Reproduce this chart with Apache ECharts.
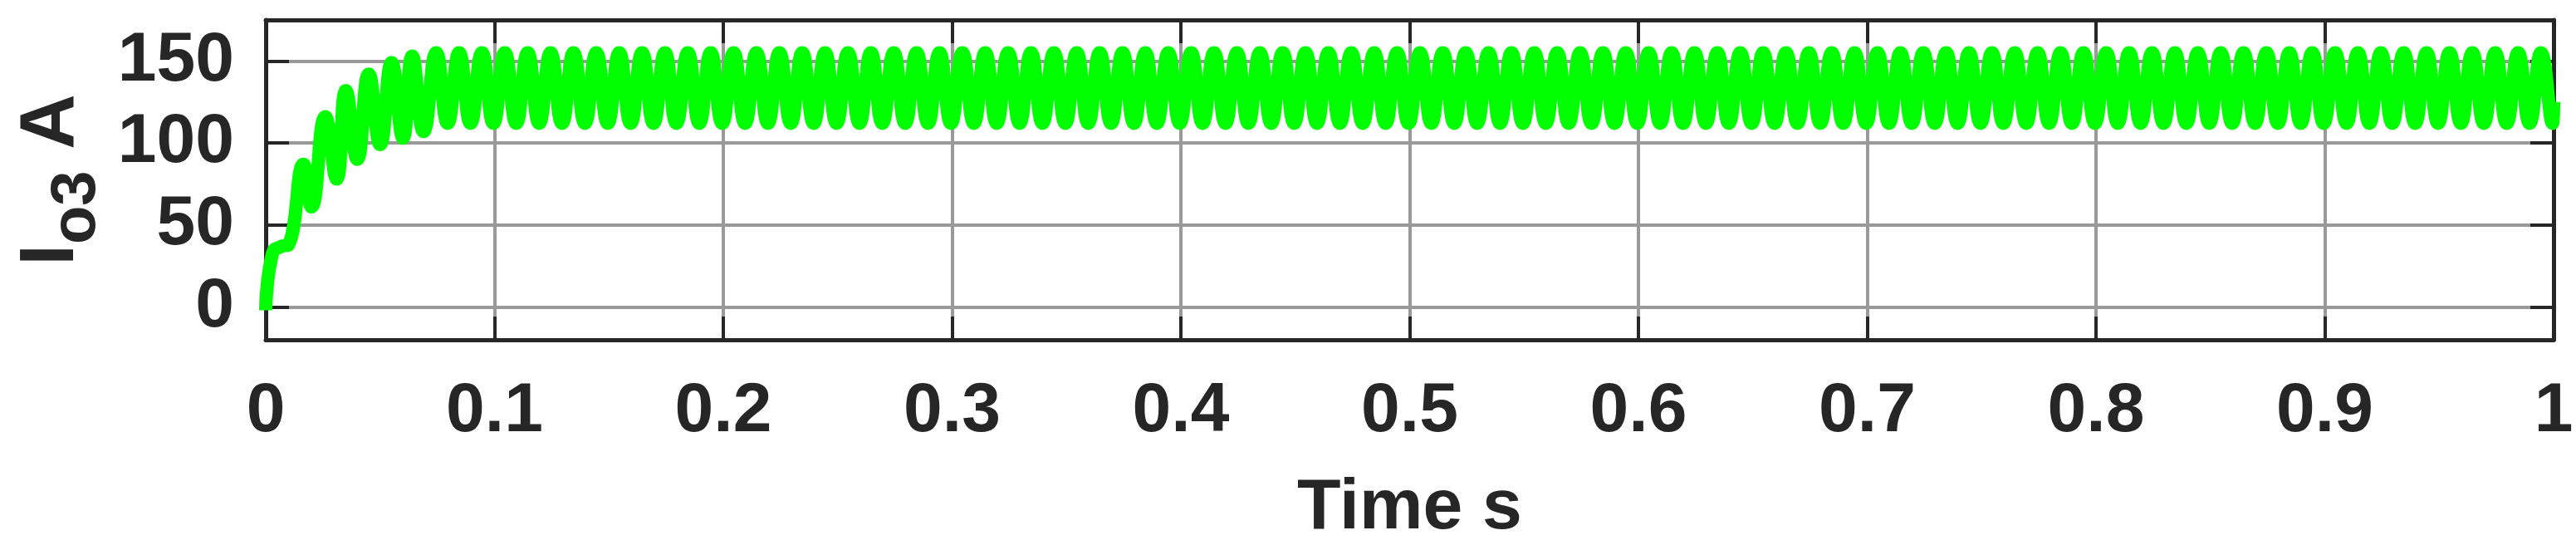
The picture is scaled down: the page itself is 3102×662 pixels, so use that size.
<!DOCTYPE html>
<html lang="en">
<head>
<meta charset="UTF-8">
<title>Io3</title>
<script src="https://cdn.jsdelivr.net/npm/echarts@6/dist/echarts.min.js"></script>
<style>html,body{margin:0;padding:0;background:#fff}</style>
</head>
<body>
<div id="main" style="width:3102px;height:662px;"></div>
<script>
// start-up transient (time s, current A) at the turning points
var startTimes = [0, 0.003, 0.007, 0.010, 0.0165, 0.020, 0.026, 0.031, 0.035, 0.040, 0.045, 0.050, 0.055, 0.060, 0.064, 0.069];
var startVals  = [-2, 33, 37, 38, 87, 61, 116, 78, 132, 90, 142, 99, 149, 103, 153, 107];
// steady ripple: peaks and troughs every 10 ms after the transient
var firstPeak = 0.0745;
var peakVals = [];
var troughVals = [];
for (var k = 0; k < 93; k++) { peakVals.push(155); troughVals.push(112); }
var xTicks = ['0','0.1','0.2','0.3','0.4','0.5','0.6','0.7','0.8','0.9','1'];
var yTicks = [0, 50, 100, 150];

var pts = [];
for (var i = 0; i < startTimes.length; i++) pts.push([startTimes[i], startVals[i]]);
for (var j = 0; j < peakVals.length; j++) {
    var tp = firstPeak + j * 0.01;
    if (tp <= 1) pts.push([tp, peakVals[j]]);
    if (tp + 0.005 <= 1) pts.push([tp + 0.005, troughVals[j]]);
}
pts.push([1, 125]);

var txt = '#262626';
var font = '"Liberation Sans", Arial, sans-serif';
var frame = {show: true, onZero: false, lineStyle: {color: txt, width: 5}};
var tick = {inside: true, length: 28, lineStyle: {color: txt, width: 4}};
var chart = echarts.init(document.getElementById('main'));
chart.setOption({
    animation: false,
    grid: {left: 320, right: 27, top: 24, bottom: 253, outerBoundsMode: 'none', containLabel: false},
    xAxis: [{
        type: 'value', min: 0, max: 1, interval: 0.1,
        name: 'Time s', nameLocation: 'middle', nameGap: 160,
        nameTextStyle: {color: txt, fontSize: 86, fontWeight: 'bold', fontFamily: font},
        axisLine: frame, axisTick: tick,
        axisLabel: {margin: 45, color: txt, fontSize: 84, fontWeight: 'bold', fontFamily: font,
            formatter: function (v) { return xTicks[Math.round(v * 10)]; }},
        splitLine: {show: true, lineStyle: {color: '#999', width: 4}}
    }, {
        type: 'value', min: 0, max: 1, interval: 0.1, position: 'top',
        axisLine: frame, axisTick: tick,
        axisLabel: {show: false}, splitLine: {show: false}
    }],
    yAxis: [{
        type: 'value', min: -20, max: 175,
        name: '{b|I}{s|o3}{b| A}', nameLocation: 'middle', nameGap: 178, nameRotate: 90,
        nameTextStyle: {rich: {
            b: {color: txt, fontSize: 92, fontWeight: 'bold', fontFamily: font},
            s: {color: txt, fontSize: 76, fontWeight: 'bold', fontFamily: font, verticalAlign: 'bottom', padding: [60, 0, 0, 0]}
        }},
        axisLine: frame,
        axisTick: {inside: true, length: 28, customValues: yTicks, lineStyle: {color: txt, width: 4}},
        axisLabel: {margin: 38, color: txt, fontSize: 84, fontWeight: 'bold', fontFamily: font, customValues: yTicks},
        splitLine: {show: true, lineStyle: {color: '#999', width: 4}}
    }, {
        type: 'value', min: -20, max: 175, position: 'right',
        axisLine: frame,
        axisTick: {inside: true, length: 28, customValues: yTicks, lineStyle: {color: txt, width: 4}},
        axisLabel: {show: false}, splitLine: {show: false}
    }],
    series: [{
        type: 'line', data: pts, smooth: 0.5, showSymbol: false, clip: true,
        lineStyle: {color: '#00ff00', width: 16}
    }]
});
</script>
</body>
</html>
